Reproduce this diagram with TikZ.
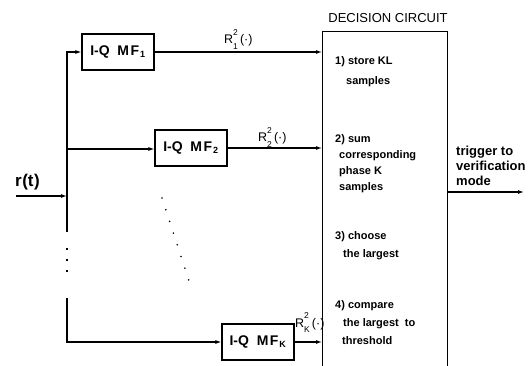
\documentclass[tikz,border=0pt]{standalone}
\usepackage{fontspec}
\setmainfont{Liberation Sans}
\usetikzlibrary{arrows.meta,positioning}

% squared envelope label R_i^2(.)
\newcommand{\Rlab}[1]{R\rlap{\raisebox{1.3ex}{\fontsize{8.5}{9}\selectfont 2}}\raisebox{-0.8ex}{\fontsize{8.5}{9}\selectfont #1}\,(\textperiodcentered)}

\tikzset{
  mfbox/.style={draw, line width=1.1pt, minimum width=72pt, minimum height=36pt, inner sep=0pt, font=\bfseries\fontsize{14}{14}\selectfont},
  sigline/.style={line width=1.1pt},
  sigarrow/.style={sigline, -{Latex[length=6pt,width=4pt]}},
  steptext/.style={anchor=north west, align=left, inner sep=0pt, font=\bfseries\fontsize{11}{18}\selectfont},
  rlabel/.style={anchor=base west, inner sep=0pt, font=\fontsize{12.5}{12.5}\selectfont},
}

\begin{document}
\begin{tikzpicture}[x=1pt,y=-1pt]
    \clip (0,0) rectangle (529,366);

    % Matched filter bank
    \node[mfbox] (mf1) at (118,52) {I-Q\ \ M\kern1.5pt F\kern1pt\textsubscript{\fontsize{9}{9}\selectfont 1}};
    \node[mfbox] (mf2) at (191,148) {I-Q\ \ M\kern1.5pt F\kern1pt\textsubscript{\fontsize{9}{9}\selectfont 2}};
    \node[mfbox] (mfK) at (258,342) {I-Q\ \ M\kern1.5pt F\kern1pt\textsubscript{\fontsize{9}{9}\selectfont K}};

    % Decision circuit (runs off the bottom edge)
    \node[draw, line width=1.1pt, minimum width=125pt, minimum height=380pt, anchor=north west, inner sep=0pt] (dec) at (322,31) {};
    \node[anchor=base, inner sep=0pt, font=\fontsize{13}{13}\selectfont] (dectitle) at (388,23) {DECISION CIRCUIT};

    % Input bus
    \coordinate (bus1) at (67,52);
    \coordinate (bus2) at (67,149);
    \coordinate (busK) at (67,342);
    \coordinate (rin) at (16,196);
    \coordinate (rjoin) at (67,196);
    \node[anchor=base west, inner sep=0pt, font=\bfseries\fontsize{17}{17}\selectfont] (rt) at (15,186) {r\kern0.5pt(t\kern0.5pt)};
    \draw[sigarrow] (rin) -- (rjoin);
    \draw[sigarrow] (67,232) -- (bus1) -- (mf1.west);
    \draw[sigarrow] (bus2) -- (mf2.west |- bus2);
    \draw[sigline, dash pattern=on 1.5pt off 9.5pt] (67,248) -- (67,275);
    \draw[sigarrow] (67,298) -- (busK) -- (mfK.west);
    \draw[line width=1.8pt, line cap=round, dash pattern=on 0pt off 12.3pt] (162,198) -- (190,284);

    % Filter outputs
    \draw[sigarrow] (mf1.east) -- (mf1.east -| dec.west);
    \draw[sigarrow] (mf2.east) -- (mf2.east -| dec.west);
    \draw[sigarrow] (mfK.east) -- (mfK.east -| dec.west);
    \node[rlabel] (r1) at (224,44) {\Rlab{1}};
    \node[rlabel] (r2) at (258,142) {\Rlab{2}};
    \node[rlabel] (rK) at (295,327) {\Rlab{K}};

    % Steps inside the decision circuit
    \node[steptext, font=\bfseries\fontsize{11}{20}\selectfont] (step1) at (335,56) {1) store KL\\\hspace*{11pt}samples};
    \node[steptext, font=\bfseries\fontsize{11}{16}\selectfont] (step2) at (335,134) {2) sum\\\hspace*{4pt}corresponding\\\hspace*{4pt}phase K\\\hspace*{4pt}samples};
    \node[steptext] (step3) at (335,231) {3) choose\\\hspace*{8pt}the largest};
    \node[steptext] (step4) at (335,300) {4) compare\\\hspace*{8pt}the largest\ \ to\\\hspace*{7pt}threshold};

    % Output
    \coordinate (trig) at (524,192);
    \draw[sigarrow] (dec.east |- trig) -- (trig);
    \node[steptext, font=\bfseries\fontsize{13}{15}\selectfont] (trigtext) at (456,146) {trigger to\\verification\\mode};
\end{tikzpicture}
\end{document}
